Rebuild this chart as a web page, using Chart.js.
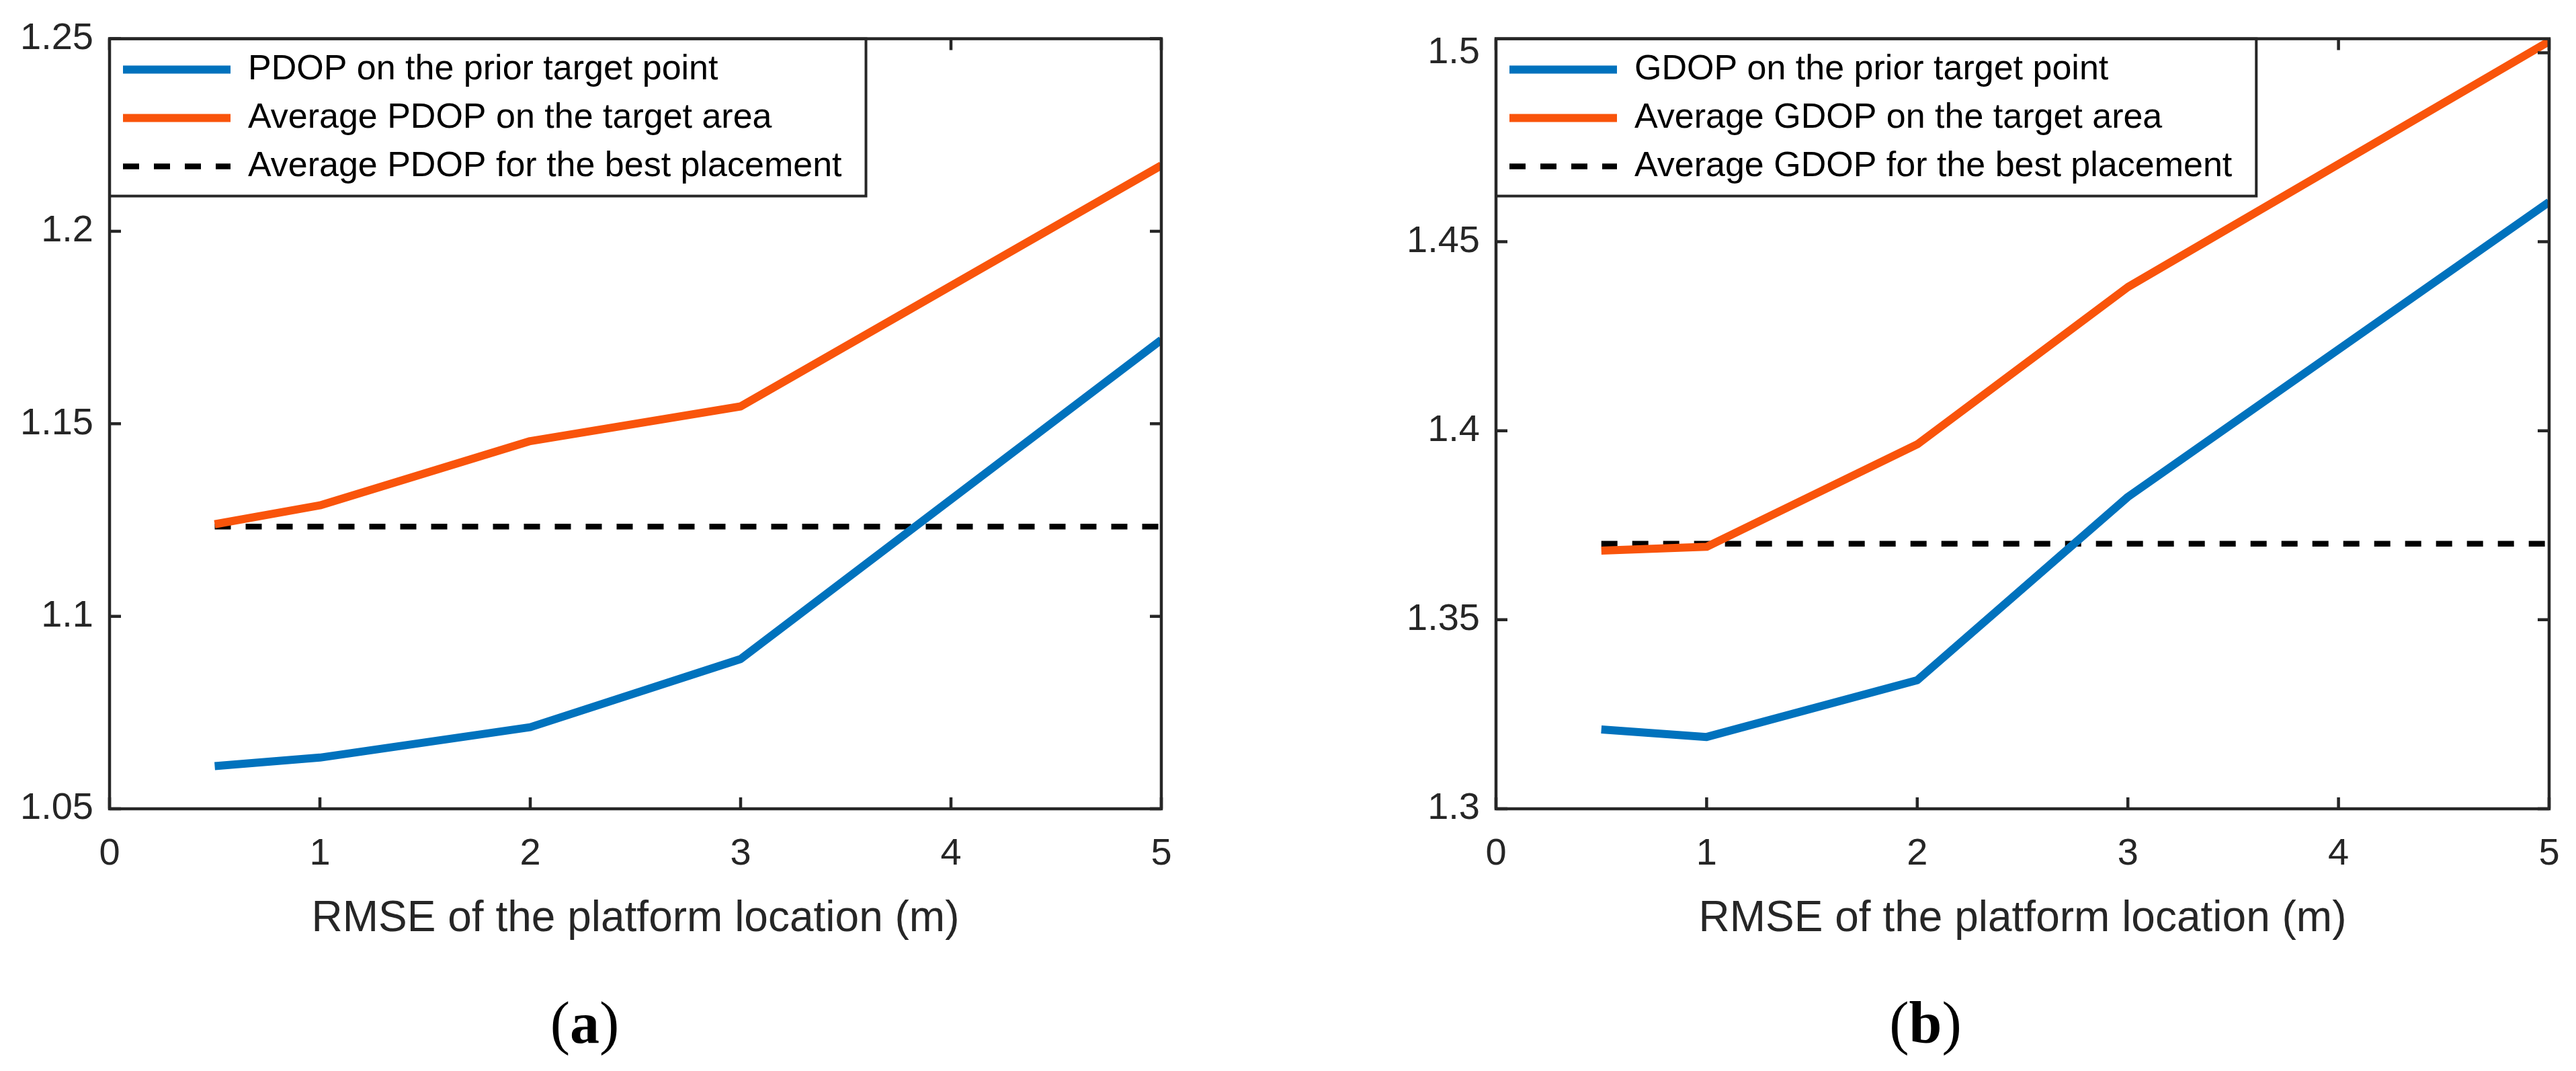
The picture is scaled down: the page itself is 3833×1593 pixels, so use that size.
<!DOCTYPE html>
<html>
<head>
<meta charset="utf-8">
<script src="https://cdn.jsdelivr.net/npm/chart.js@4.4.1/dist/chart.umd.min.js"></script>
<style>
html, body { margin: 0; padding: 0; background: #fff; }
#wrap { position: relative; width: 3833px; height: 1593px; overflow: hidden; }
canvas { position: absolute; top: 0; }
.cap { position: absolute; top: 1478px; font-family: 'Liberation Serif', 'Times New Roman', serif; font-size: 88px; line-height: 1; transform: translateX(-50%); color: #000; white-space: nowrap; }
</style>
</head>
<body>
<div id="wrap">
  <canvas id="chartA" width="1860" height="1420" style="left:0px"></canvas>
  <canvas id="chartB" width="1860" height="1420" style="left:2063px"></canvas>
  <div class="cap" style="left:870px">(<b>a</b>)</div>
  <div class="cap" style="left:2865px">(<b>b</b>)</div>
</div>
<script>
// x values (RMSE of the platform location, m)
const rmse = [0.5, 1, 2, 3, 5];
const xTicks = [0, 1, 2, 3, 4, 5];
const xTitle = 'RMSE of the platform location (m)';

// (a) PDOP
const pdopPrior = [1.0611, 1.0633, 1.0712, 1.0889, 1.1718];
const pdopArea = [1.1239, 1.1288, 1.1455, 1.1545, 1.2171];
const pdopBest = [1.1233, 1.1233, 1.1233, 1.1233, 1.1233];
const pdopTicks = [1.05, 1.1, 1.15, 1.2, 1.25];
const pdopLabels = ['PDOP on the prior target point', 'Average PDOP on the target area', 'Average PDOP for the best placement'];

// (b) GDOP
const gdopPrior = [1.3210, 1.3190, 1.3340, 1.3825, 1.4605];
const gdopArea = [1.3683, 1.3693, 1.3964, 1.4380, 1.5030];
const gdopBest = [1.3701, 1.3701, 1.3701, 1.3701, 1.3701];
const gdopTicks = [1.3, 1.35, 1.4, 1.45, 1.5];
const gdopLabels = ['GDOP on the prior target point', 'Average GDOP on the target area', 'Average GDOP for the best placement'];

const BLUE = '#0072BD';
const ORANGE = '#F9540B';
const AXIS = '#262626';

Chart.defaults.font.family = "'Liberation Sans', Arial, sans-serif";

const toPoints = (vals) => rmse.map((x, i) => ({x: x, y: vals[i]}));

// matlab-ish box: inward ticks on all four sides, boxed legend on top
const boxAxes = {
    id: 'boxAxes',
    afterLayout(chart) {
        // vertical legend in the chart area gets top reset to 0, put it back
        const lg = chart.legend;
        const h = lg.height;
        lg.top = chart.chartArea.top;
        lg.bottom = lg.top + h;
    },
    afterDraw(chart) {
        const {ctx, chartArea: a, scales: {x, y}} = chart;
        const tl = 17;
        ctx.save();
        ctx.strokeStyle = AXIS;
        ctx.lineWidth = 4.5;
        ctx.setLineDash([]);
        ctx.beginPath();
        x.ticks.forEach(t => {
            const px = x.getPixelForValue(t.value);
            ctx.moveTo(px, a.bottom); ctx.lineTo(px, a.bottom - tl);
            ctx.moveTo(px, a.top); ctx.lineTo(px, a.top + tl);
        });
        y.ticks.forEach(t => {
            const py = y.getPixelForValue(t.value);
            ctx.moveTo(a.left, py); ctx.lineTo(a.left + tl, py);
            ctx.moveTo(a.right, py); ctx.lineTo(a.right - tl, py);
        });
        ctx.stroke();

        const hb = chart.legend.legendHitBoxes;
        let r = 0, b = 0;
        hb.forEach(h => {
            r = Math.max(r, h.left + h.width);
            b = Math.max(b, h.top + h.height);
        });
        const lx = a.left, ly = a.top, lw = r + 36 - a.left, lh = b + 18 - a.top;
        ctx.fillStyle = '#fff';
        ctx.fillRect(lx, ly, lw, lh);
        ctx.restore();

        chart.legend.draw();

        ctx.save();
        ctx.strokeStyle = AXIS;
        ctx.lineWidth = 4;
        ctx.strokeRect(lx, ly, lw, lh);
        ctx.lineWidth = 4.5;
        ctx.strokeRect(a.left, a.top, a.right - a.left, a.bottom - a.top);
        ctx.restore();
    }
};

function makeChart(id, prior, area, best, labels, yTicks, yMin, yMax, padRight) {
    return new Chart(document.getElementById(id), {
        type: 'line',
        data: {
            datasets: [
                {label: labels[0], data: toPoints(prior), borderColor: BLUE, backgroundColor: BLUE,
                    borderWidth: 12, pointRadius: 0, borderJoinStyle: 'round'},
                {label: labels[1], data: toPoints(area), borderColor: ORANGE, backgroundColor: ORANGE,
                    borderWidth: 12, pointRadius: 0, borderJoinStyle: 'round'},
                {label: labels[2], data: toPoints(best), borderColor: '#000', backgroundColor: '#000',
                    borderWidth: 8.5, borderDash: [24, 22], pointRadius: 0}
            ]
        },
        options: {
            responsive: false,
            devicePixelRatio: 1,
            animation: false,
            events: [],
            layout: {padding: {top: 50, right: padRight, left: 0, bottom: 0}},
            scales: {
                x: {
                    type: 'linear', min: 0, max: 5,
                    afterBuildTicks: s => { s.ticks = xTicks.map(v => ({value: v})); },
                    afterFit: s => { s.height = 217; },
                    grid: {display: false, drawTicks: false},
                    border: {display: false},
                    ticks: {padding: 34, color: AXIS, font: {size: 56}, callback: v => String(v)},
                    title: {display: true, text: xTitle, color: AXIS, font: {size: 64}, padding: {top: 0, bottom: 14}}
                },
                y: {
                    type: 'linear', min: yMin, max: yMax,
                    afterBuildTicks: s => { s.ticks = yTicks.map(v => ({value: v})); },
                    afterFit: s => { s.width = 163; },
                    grid: {display: false, drawTicks: false},
                    border: {display: false},
                    ticks: {padding: 24, color: AXIS, font: {size: 56}, callback: v => String(+v.toFixed(2))}
                }
            },
            plugins: {
                tooltip: {enabled: false},
                legend: {
                    position: 'chartArea',
                    align: 'start',
                    labels: {
                        usePointStyle: true,
                        pointStyle: 'line',
                        pointStyleWidth: 160,
                        boxHeight: 55,
                        padding: 20,
                        color: '#000',
                        font: {size: 52},
                        generateLabels(chart) {
                            return Chart.defaults.plugins.legend.labels.generateLabels(chart).map(item => {
                                const ds = chart.data.datasets[item.datasetIndex];
                                item.lineWidth = ds.borderWidth;
                                item.lineDash = ds.borderDash || [];
                                item.strokeStyle = ds.borderColor;
                                item.pointStyle = 'line';
                                item.lineCap = 'butt';
                                return item;
                            });
                        }
                    }
                }
            }
        },
        plugins: [boxAxes]
    });
}

makeChart('chartA', pdopPrior, pdopArea, pdopBest, pdopLabels, pdopTicks, 1.05, 1.25, 132);
makeChart('chartB', gdopPrior, gdopArea, gdopBest, gdopLabels, gdopTicks, 1.3, 1.5037, 130);
</script>
</body>
</html>
